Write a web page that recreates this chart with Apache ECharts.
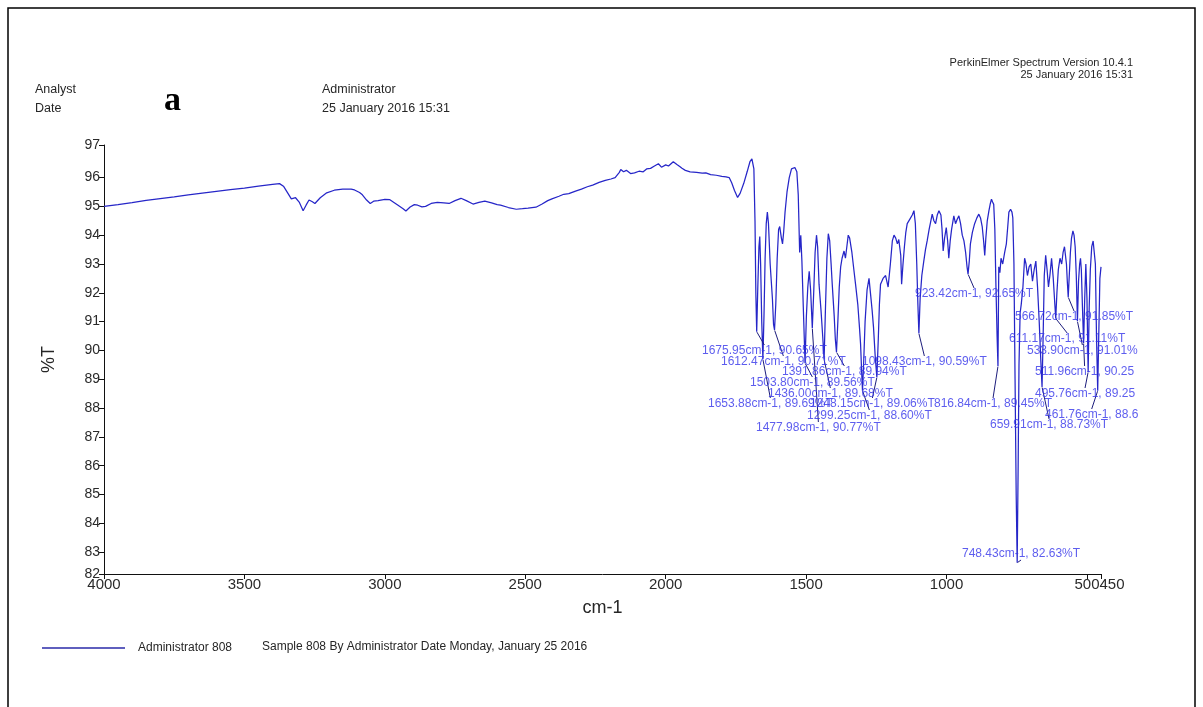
<!DOCTYPE html>
<html>
<head>
<meta charset="utf-8">
<title>FT-IR spectrum – Sample 808</title>
<script src="https://cdn.jsdelivr.net/npm/echarts@6/dist/echarts.min.js"></script>
<style>
  html, body { margin: 0; padding: 0; background: #fff; }
  #chart { width: 1203px; height: 707px; }
</style>
</head>
<body>
<div id="chart"></div>
<script>
// Spectrum: wavenumber (cm-1) and transmittance (%T), high to low wavenumber
const wavenumbers = [
  4000, 3950, 3900, 3850, 3800, 3750, 3700, 3650, 3600, 3550, 3500, 3450, 3400, 3375,
  3361, 3345, 3333, 3318, 3305, 3291, 3280, 3270, 3258, 3249, 3230, 3207, 3180, 3150,
  3120, 3108, 3090, 3080, 3065, 3052, 3040, 3024, 3000, 2982, 2965, 2953, 2935, 2925,
  2910, 2895, 2883, 2868, 2855, 2835, 2813, 2790, 2771, 2750, 2729, 2710, 2686, 2665,
  2644, 2620, 2600, 2588, 2560, 2532, 2510, 2490, 2462, 2440, 2420, 2405, 2380, 2363,
  2345, 2321, 2300, 2279, 2260, 2237, 2215, 2195, 2180, 2173, 2165, 2160, 2150, 2140,
  2125, 2111, 2095, 2080, 2068, 2054, 2040, 2026, 2015, 2000, 1990, 1973, 1960, 1950,
  1942, 1930, 1913, 1890, 1870, 1857, 1840, 1820, 1800, 1785, 1774, 1765, 1755, 1744,
  1735, 1722, 1710, 1700, 1693, 1686, 1682, 1679, 1675.95, 1672, 1668, 1665, 1662, 1658,
  1653.88, 1650, 1646, 1642, 1638, 1634, 1628, 1620, 1616, 1612.47, 1608, 1603, 1598, 1594,
  1588, 1584, 1580, 1575, 1568, 1560, 1552, 1547, 1540, 1533, 1528, 1523, 1519, 1515,
  1510, 1503.8, 1499, 1494, 1489, 1484, 1477.98, 1473, 1468, 1463, 1459, 1454, 1447, 1441,
  1436, 1431, 1426, 1421, 1416, 1411, 1407, 1400, 1396, 1391.86, 1387, 1382, 1377, 1372,
  1365, 1360, 1355, 1350, 1345, 1337, 1330, 1324, 1316, 1310, 1306, 1302, 1299.25, 1295,
  1290, 1283, 1276, 1270, 1265, 1260, 1254, 1248.15, 1243, 1239, 1235, 1226, 1217, 1208,
  1200, 1193, 1187, 1181, 1175, 1170, 1167, 1163, 1160, 1155, 1150, 1145, 1140, 1131,
  1122, 1116, 1111, 1106, 1102, 1098.43, 1094, 1088, 1081, 1075, 1069, 1062, 1051, 1045,
  1039, 1033, 1027, 1020, 1016, 1012, 1007, 1001, 996, 992, 987, 982, 974, 968,
  962, 956, 950, 944, 938, 932, 927, 923.42, 919, 915, 908, 900, 892, 885,
  879, 873, 868, 864, 860, 855, 849, 844, 840, 836, 832, 828, 824, 820,
  816.84, 814, 810, 806, 800, 793, 787, 782, 778, 772, 767, 764, 760, 756,
  752, 748.43, 745, 742, 738, 734, 728, 722, 717, 712, 706, 700, 694, 688,
  682, 676, 670, 665, 659.91, 656, 652, 647, 642, 637, 632, 626, 620, 615,
  611.17, 607, 602, 596, 590, 585, 580, 577, 573, 570, 566.72, 563, 559, 555,
  550, 546, 542, 538, 533.9, 530, 526, 523, 520, 516, 511.96, 508, 504, 500,
  495.76, 492, 488, 483, 478, 474, 470, 466, 461.76, 458, 454, 450
];
const transmittance = [
  95.00, 95.06, 95.13, 95.21, 95.27, 95.33, 95.40, 95.46, 95.52, 95.58, 95.63, 95.70, 95.76, 95.79,
  95.70, 95.45, 95.26, 95.30, 95.15, 94.85, 95.05, 95.22, 95.16, 95.10, 95.30, 95.47, 95.56, 95.60,
  95.60, 95.57, 95.48, 95.40, 95.22, 95.10, 95.18, 95.20, 95.24, 95.23, 95.12, 95.04, 94.92, 94.84,
  94.98, 95.06, 95.04, 94.98, 95.00, 95.10, 95.14, 95.12, 95.10, 95.20, 95.28, 95.20, 95.08, 95.14,
  95.18, 95.12, 95.06, 95.04, 94.96, 94.90, 94.92, 94.94, 94.97, 95.08, 95.20, 95.26, 95.35, 95.42,
  95.44, 95.53, 95.60, 95.68, 95.74, 95.83, 95.90, 95.95, 96.00, 96.05, 96.18, 96.28, 96.20, 96.25,
  96.14, 96.16, 96.22, 96.20, 96.30, 96.32, 96.40, 96.48, 96.36, 96.44, 96.40, 96.55, 96.45, 96.38,
  96.32, 96.25, 96.20, 96.18, 96.15, 96.16, 96.10, 96.08, 96.04, 96.02, 96.00, 95.82, 95.55, 95.31,
  95.45, 95.80, 96.20, 96.55, 96.65, 96.30, 94.50, 92.00, 90.65, 92.20, 93.60, 93.95, 93.00, 91.00,
  89.69, 91.20, 93.20, 94.40, 94.80, 94.40, 93.00, 91.80, 90.90, 90.71, 91.60, 93.20, 94.20, 94.30,
  93.90, 93.70, 94.10, 94.80, 95.50, 96.00, 96.30, 96.35, 96.35, 96.20, 95.40, 93.40, 94.00, 93.10,
  91.50, 89.56, 91.20, 92.20, 92.75, 92.10, 90.77, 92.00, 93.40, 94.00, 93.60, 92.30, 91.40, 90.50,
  89.68, 91.50, 93.20, 94.05, 93.80, 93.00, 92.30, 91.20, 90.40, 89.94, 91.00, 92.20, 92.90, 93.20,
  93.45, 93.20, 93.60, 94.00, 93.90, 93.40, 92.80, 92.30, 91.60, 90.80, 90.20, 89.20, 88.60, 89.60,
  91.00, 92.10, 92.50, 91.90, 91.40, 90.80, 89.80, 89.06, 90.40, 91.60, 92.30, 92.50, 92.60, 92.20,
  93.00, 93.80, 94.00, 93.90, 93.70, 93.85, 93.85, 93.30, 92.30, 93.00, 93.60, 94.10, 94.40, 94.55,
  94.70, 94.85, 94.40, 93.00, 91.60, 90.59, 91.80, 92.60, 93.10, 93.50, 93.80, 94.20, 94.73, 94.50,
  94.40, 94.70, 94.85, 94.70, 94.20, 93.45, 93.90, 94.26, 93.80, 93.20, 93.80, 94.20, 94.67, 94.40,
  94.55, 94.67, 94.40, 94.00, 93.80, 93.40, 92.90, 92.65, 93.10, 93.70, 94.10, 94.40, 94.60, 94.73,
  94.60, 94.30, 93.80, 93.30, 93.90, 94.50, 94.85, 95.10, 95.25, 95.15, 95.07, 94.20, 92.20, 90.50,
  89.45, 92.90, 92.70, 93.20, 93.00, 93.40, 93.70, 94.30, 94.80, 94.90, 94.80, 94.60, 93.00, 89.00,
  85.00, 82.63, 86.00, 89.50, 91.30, 91.60, 92.20, 93.20, 93.00, 92.60, 92.90, 93.00, 92.40, 92.80,
  93.10, 92.20, 91.00, 89.80, 88.73, 90.50, 92.60, 93.30, 92.80, 92.20, 92.60, 93.20, 92.50, 91.70,
  91.11, 92.00, 92.80, 93.20, 93.00, 93.40, 93.60, 93.56, 93.00, 92.40, 91.85, 92.60, 93.40, 93.90,
  94.15, 94.00, 93.60, 92.60, 91.01, 92.40, 93.00, 93.20, 92.80, 91.50, 90.25, 91.80, 93.00, 91.80,
  89.25, 91.50, 92.80, 93.60, 93.80, 93.86, 93.00, 90.50, 88.60, 90.50, 92.50, 92.90
];

// Peak-picking results
const peakWavenumbers = [
  1675.95, 1612.47, 1391.86, 1503.80, 1436.00, 1653.88, 1248.15, 1299.25, 1477.98, 1098.43,
  923.42, 816.84, 659.91, 566.72, 611.17, 533.90, 511.96, 495.76, 461.76, 748.43
];
const peakTransmittance = [
  90.65, 90.71, 89.94, 89.56, 89.68, 89.69, 89.06, 88.60, 90.77, 90.59,
  92.65, 89.45, 88.73, 91.85, 91.11, 91.01, 90.25, 89.25, 88.60, 82.63
];

// Axis ticks
const xTickValues = [4000, 3500, 3000, 2500, 2000, 1500, 1000, 500, 450];
const yTickValues = [83, 84, 85, 86, 87, 88, 89, 90, 91, 92, 93, 94, 95, 96];
const yRange = [82.24, 97.13];

// Layout: where each peak annotation sits (left edge, vertical centre, in px)
const labelSpots = [
  [702, 351], [721, 362], [782, 372], [750, 383], [768, 394], [708, 404], [810, 404],
  [807, 416], [756, 428], [862, 362], [915, 294], [934, 404], [990, 425], [1015, 317],
  [1009, 339], [1027, 351], [1035, 372], [1035, 394], [1045, 415], [962, 554]
];
// Annotations are cut off at the right edge of the print area
const LABEL_CLIP_X = 1143;

const chart = echarts.init(document.getElementById('chart'), null, { renderer: 'canvas' });

const spectrum = wavenumbers.map((w, i) => [w, transmittance[i]]);
const peaks = peakWavenumbers.map((w, i) => {
  const item = { value: [w, peakTransmittance[i]] };
  const room = LABEL_CLIP_X - labelSpots[i][0];
  if (room < 126) {
    item.label = { width: room, overflow: 'truncate', ellipsis: '' };
  }
  return item;
});

const SANS = "'Liberation Sans', Arial, sans-serif";
const LINE_BLUE = '#2626c8';
const TEXT_BLUE = '#3535ea';
const yLabelValues = [yRange[0]].concat(yTickValues, [yRange[1]]);

function headerText(x, y, text, size, align) {
  return {
    type: 'text', x: x, y: y, silent: true,
    style: {
      text: text, fill: '#262626', align: align || 'left', verticalAlign: 'middle',
      font: size + 'px ' + SANS
    }
  };
}

chart.setOption({
  animation: false,
  backgroundColor: '#ffffff',
  grid: { left: 104, right: 102, top: 145, bottom: 133, containLabel: false },
  legend: {
    show: true,
    data: ['Administrator 808'],
    left: 42, top: 642,
    padding: 0,
    icon: 'rect',
    itemWidth: 83, itemHeight: 1.6,
    itemStyle: { color: '#2a2aa8' },
    textStyle: { fontFamily: SANS, fontSize: 12, color: '#262626', padding: [0, 0, 0, 8] },
    selectedMode: false
  },
  xAxis: {
    type: 'value',
    min: 450, max: 4000,
    inverse: true,
    name: 'cm-1',
    nameLocation: 'middle',
    nameGap: 25,
    nameTextStyle: { fontFamily: SANS, fontSize: 18, color: '#262626' },
    splitLine: { show: false },
    axisLine: { lineStyle: { color: '#111', width: 1 } },
    axisTick: { customValues: xTickValues, length: 5, lineStyle: { color: '#111' } },
    axisLabel: {
      customValues: xTickValues,
      showMinLabel: true, showMaxLabel: true, hideOverlap: false,
      margin: 3,
      fontFamily: SANS, fontSize: 15, color: '#2a2a2a',
      formatter: v => (v === 450 ? '{end|450}' : String(v)),
      rich: { end: { fontFamily: SANS, fontSize: 15, color: '#2a2a2a', padding: [0, 0, 0, 22] } }
    }
  },
  yAxis: {
    type: 'value',
    min: yRange[0], max: yRange[1],
    name: '%T',
    nameLocation: 'middle',
    nameGap: 46,
    nameTextStyle: { fontFamily: SANS, fontSize: 18, color: '#262626' },
    splitLine: { show: false },
    axisLine: { show: true, lineStyle: { color: '#111', width: 1 } },
    axisTick: { show: true, customValues: yLabelValues, length: 5, lineStyle: { color: '#111' } },
    axisLabel: {
      customValues: yLabelValues,
      showMinLabel: true, showMaxLabel: true,
      margin: 4,
      fontFamily: SANS, fontSize: 14, color: '#2a2a2a',
      formatter: v => String(Math.round(v))
    }
  },
  series: [
    {
      name: 'Administrator 808',
      type: 'line',
      data: spectrum,
      symbol: 'none',
      showSymbol: false,
      lineStyle: { color: LINE_BLUE, width: 1.25 },
      itemStyle: { color: LINE_BLUE },
      clip: true,
      z: 2
    },
    {
      name: 'peaks',
      type: 'scatter',
      data: peaks,
      symbol: 'circle',
      symbolSize: 1,
      itemStyle: { color: 'rgba(0,0,0,0)' },
      silent: true,
      z: 3,
      label: {
        show: true,
        fontFamily: SANS,
        fontSize: 12,
        color: TEXT_BLUE,
        formatter: p => p.value[0].toFixed(2) + 'cm-1, ' + p.value[1].toFixed(2) + '%T'
      },
      labelLine: {
        show: true,
        lineStyle: { color: '#1d1d7c', width: 1 }
      },
      labelLayout: p => ({
        x: labelSpots[p.dataIndex][0],
        y: labelSpots[p.dataIndex][1],
        align: 'left',
        verticalAlign: 'middle'
      })
    }
  ],
  graphic: [
    {
      type: 'rect', silent: true,
      shape: { x: 8, y: 8, width: 1187, height: 720 },
      style: { fill: 'none', stroke: '#000', lineWidth: 1.5 }
    },
    headerText(1133, 63, 'PerkinElmer Spectrum Version 10.4.1', 11, 'right'),
    headerText(1133, 75, '25 January 2016 15:31', 11, 'right'),
    headerText(35, 90, 'Analyst', 12.5),
    headerText(35, 109, 'Date', 12.5),
    headerText(322, 90, 'Administrator', 12.5),
    headerText(322, 109, '25 January 2016 15:31', 12.5),
    {
      type: 'text', x: 164, y: 101, silent: true,
      style: {
        text: 'a', fill: '#000', align: 'left', verticalAlign: 'middle',
        font: "bold 34px 'Liberation Serif', 'Times New Roman', serif"
      }
    },
    headerText(262, 647, 'Sample 808 By Administrator Date Monday, January 25 2016', 12)
  ]
});
</script>
</body>
</html>
